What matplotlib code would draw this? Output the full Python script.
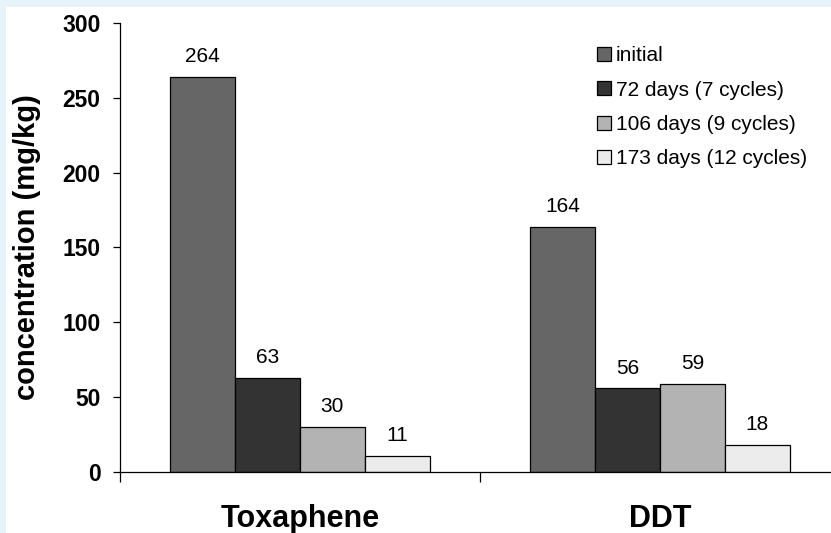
import numpy as np
import matplotlib
matplotlib.use("Agg")
import matplotlib.pyplot as plt
from matplotlib.patches import Rectangle

plt.rcParams['font.family'] = ['Liberation Sans', 'DejaVu Sans']

# concentrations en mg/kg
composes = ["Toxaphene", "DDT"]
series = ["initial", "72 days (7 cycles)", "106 days (9 cycles)", "173 days (12 cycles)"]
initial = [264, 164]
j72 = [63, 56]
j106 = [30, 59]
j173 = [11, 18]
valeurs = [initial, j72, j106, j173]
couleurs = ["#666666", "#333333", "#b3b3b3", "#ececec"]

fig = plt.figure(figsize=(8.31, 5.33), dpi=100, facecolor="#e6f4fa")
# fond blanc avec une fine bordure bleutee a gauche et en haut
fig.add_artist(Rectangle((6 / 831, 0), 1, (533 - 7) / 533,
                         transform=fig.transFigure, facecolor="white",
                         edgecolor="none", zorder=-10))

ax = fig.add_axes([120 / 831, 61 / 533, 720 / 831, 449 / 533])
ax.set_facecolor("white")

x = np.arange(len(composes))
largeur = 0.18
for i, (vals, nom, c) in enumerate(zip(valeurs, series, couleurs)):
    pos = x + (i - 1.5) * largeur
    barres = ax.bar(pos, vals, largeur, color=c, edgecolor="black", linewidth=0.9, label=nom)
    for b, v in zip(barres, vals):
        ax.annotate(str(v), (b.get_x() + b.get_width() / 2, v), xytext=(0, 14.5),
                    textcoords="offset points", ha="center", va="center", fontsize=15)

ax.set_ylim(0, 300)
ax.set_xlim(-0.5, 1.5)
ax.set_yticks(np.arange(0, 301, 50))
ax.tick_params(axis="y", direction="out", length=5, width=0.9, pad=9, labelsize=16.5)
for t in ax.get_yticklabels():
    t.set_fontweight("bold")

ax.set_xticks(x)
ax.set_xticklabels(composes, fontsize=22, fontweight="bold")
ax.tick_params(axis="x", which="major", length=0, pad=23)
ax.set_xticks([-0.5, 0.5, 1.5], minor=True)
ax.tick_params(axis="x", which="minor", direction="out", length=7, width=0.9)

ax.set_ylabel("concentration (mg/kg)", fontsize=21, fontweight="bold", labelpad=15)

for s in ["top", "right"]:
    ax.spines[s].set_visible(False)
for s in ["left", "bottom"]:
    ax.spines[s].set_linewidth(0.9)

ax.legend(loc="upper left", bbox_to_anchor=(0.651, 0.967), frameon=False, fontsize=15,
          handlelength=0.67, handleheight=0.67, handletextpad=0.24, labelspacing=0.74,
          borderaxespad=0)

fig.savefig("out.png", dpi=100, facecolor=fig.get_facecolor())
